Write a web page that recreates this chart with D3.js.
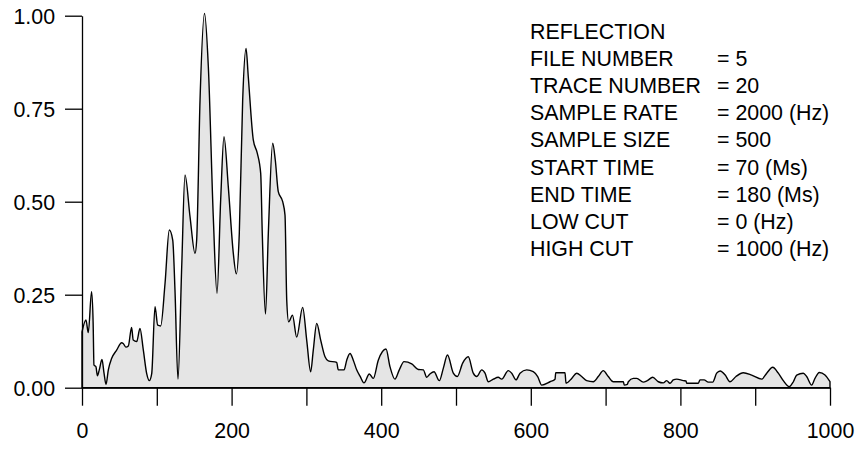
<!DOCTYPE html>
<html>
<head>
<meta charset="utf-8">
<script src="https://cdn.jsdelivr.net/npm/d3@7"></script>
<style>
  html, body { margin: 0; padding: 0; background: #ffffff; }
  svg { display: block; }
  text { font-family: "Liberation Sans", Arial, sans-serif; fill: #000; }
</style>
</head>
<body>
<svg id="chart" width="863" height="450"></svg>
<script>
const frequency = [0,5.3,8.4,12.8,14.9,16.0,18.7,20.5,23.1,26.7,29.4,32.1,35.2,39.7,46.3,53.0,55.1,58.8,61.9,66.3,68.5,73.1,77.5,82.0,86.5,90.0,93.2,97.6,101.2,105.2,111.0,116.7,121.3,124.3,128.3,133.3,137.7,144.4,151.1,153.3,157.8,163.8,168.9,175.5,180.5,185.4,189.8,195.6,202.3,206.3,210.3,214.8,219.3,222.3,229.0,234.4,238.9,241.0,245.3,249.1,254.9,258.4,262.4,268.3,271.4,273.7,276.3,281.4,287.0,295.0,300.4,305.7,309.2,313.8,319.1,324.9,329.3,340.5,342.6,350.3,353.9,358.3,362.7,367.2,371.7,377.0,384.1,389.4,396.1,406.4,411.8,418.4,424.2,430.5,440.8,449.6,456.3,460.8,465.2,470.6,477.7,483.0,488.6,496.4,501.7,508.9,516.4,523.1,527.7,534.4,538.8,543.2,549.9,556.5,561.1,569.9,574.5,580.2,585.6,594.5,603.3,609.2,614.6,625.7,632.4,633.3,645.7,647.1,654.7,661.3,668.0,674.7,683.6,690.2,696.9,703.6,710.3,723.7,725.0,729.0,730.4,737.0,741.6,750.4,755.7,763.0,770.5,777.1,781.7,786.1,790.5,795.1,803.9,807.5,808.4,824.0,826.2,831.6,837.3,843.2,848.5,853.2,859.9,866.3,874.3,884.1,895.3,908.7,915.4,923.4,930.9,937.6,945.6,951.0,955.5,964.3,968.8,975.5,979.9,985.7,993.3,1000];

const amplitude = [0.150,0.182,0.148,0.258,0.173,0.061,0.056,0.032,0.048,0.076,0.040,0.009,0.048,0.079,0.101,0.121,0.119,0.109,0.112,0.162,0.128,0.124,0.159,0.101,0.038,0.019,0.038,0.218,0.168,0.166,0.280,0.424,0.397,0.263,0.023,0.325,0.572,0.460,0.361,0.397,0.773,1.006,0.863,0.460,0.254,0.505,0.675,0.540,0.361,0.306,0.415,0.773,0.912,0.836,0.666,0.630,0.576,0.415,0.198,0.415,0.657,0.612,0.527,0.500,0.464,0.236,0.177,0.195,0.136,0.216,0.128,0.043,0.101,0.173,0.128,0.083,0.072,0.068,0.048,0.048,0.074,0.092,0.074,0.048,0.031,0.013,0.037,0.025,0.074,0.104,0.056,0.023,0.048,0.070,0.064,0.049,0.048,0.028,0.037,0.043,0.019,0.052,0.088,0.039,0.030,0.066,0.083,0.039,0.030,0.048,0.039,0.016,0.023,0.028,0.023,0.046,0.039,0.021,0.039,0.048,0.043,0.030,0.007,0.016,0.023,0.040,0.040,0.012,0.025,0.039,0.030,0.019,0.016,0.030,0.046,0.030,0.016,0.016,0.007,0.009,0.016,0.025,0.025,0.015,0.019,0.028,0.016,0.013,0.019,0.012,0.021,0.023,0.019,0.018,0.012,0.012,0.021,0.021,0.015,0.015,0.039,0.045,0.034,0.016,0.030,0.040,0.034,0.023,0.039,0.055,0.039,0.019,0.003,0.016,0.034,0.039,0.030,0.007,0.025,0.041,0.034,0.016];

const xTickValues = [0,100,200,300,400,500,600,700,800,900,1000];
const xTickLabels = ["0","","200","","400","","600","","800","","1000"];
const yTickValues = [0,0.25,0.5,0.75,1];
const yTickLabels = ["0.00","0.25","0.50","0.75","1.00"];

const infoLabels = ["REFLECTION","FILE NUMBER","TRACE NUMBER","SAMPLE RATE","SAMPLE SIZE","START TIME","END TIME","LOW CUT","HIGH CUT"];
const infoValues = ["","= 5","= 20","= 2000 (Hz)","= 500","= 70 (Ms)","= 180 (Ms)","= 0 (Hz)","= 1000 (Hz)"];

const svg = d3.select("#chart");
const x = d3.scaleLinear().domain([0, 1000]).range([82, 830]);
const y = d3.scaleLinear().domain([0, 1]).range([387.7, 15.7]);

const points = frequency.map((f, i) => ({f: f, a: amplitude[i]}));

const area = d3.area()
  .x(d => x(d.f))
  .y0(y(0))
  .y1(d => y(d.a))
  .curve(d3.curveMonotoneX);

svg.append("path")
  .datum(points)
  .attr("d", area)
  .attr("fill", "#e5e5e5")
  .attr("stroke", "#000")
  .attr("stroke-width", 1.4)
  .attr("stroke-linejoin", "round");

const fontSize = 23;
const squeeze = 0.93;

const xAxis = d3.axisBottom(x)
  .tickValues(xTickValues)
  .tickFormat((d, i) => xTickLabels[i])
  .tickSize(18)
  .tickSizeOuter(0)
  .tickPadding(16);

const gx = svg.append("g")
  .attr("transform", `translate(0,${y(0)})`)
  .call(xAxis);

const yAxis = d3.axisLeft(y)
  .tickValues(yTickValues)
  .tickFormat((d, i) => yTickLabels[i])
  .tickSize(17)
  .tickSizeOuter(0)
  .tickPadding(12);

const gy = svg.append("g")
  .attr("transform", `translate(${x(0)},0)`)
  .call(yAxis);

[gx, gy].forEach(g => {
  g.select(".domain").attr("stroke", "#000").attr("stroke-width", 1.3);
  g.selectAll(".tick line").attr("stroke", "#000").attr("stroke-width", 1.3);
  g.selectAll(".tick text")
    .attr("fill", "#000")
    .attr("transform", `scale(${squeeze},1)`)
    .style("font-family", '"Liberation Sans", Arial, sans-serif')
    .style("font-size", fontSize + "px");
});

const info = svg.append("g");
const lineStart = 39;
const lineStep = 27.1;
infoLabels.forEach((lab, i) => {
  info.append("text")
    .attr("transform", `translate(530,${lineStart + i * lineStep}) scale(${squeeze},1)`)
    .style("font-size", fontSize + "px")
    .text(lab);
  if (infoValues[i]) {
    info.append("text")
      .attr("transform", `translate(717,${lineStart + i * lineStep}) scale(${squeeze},1)`)
      .style("font-size", fontSize + "px")
      .text(infoValues[i]);
  }
});
</script>
</body>
</html>
